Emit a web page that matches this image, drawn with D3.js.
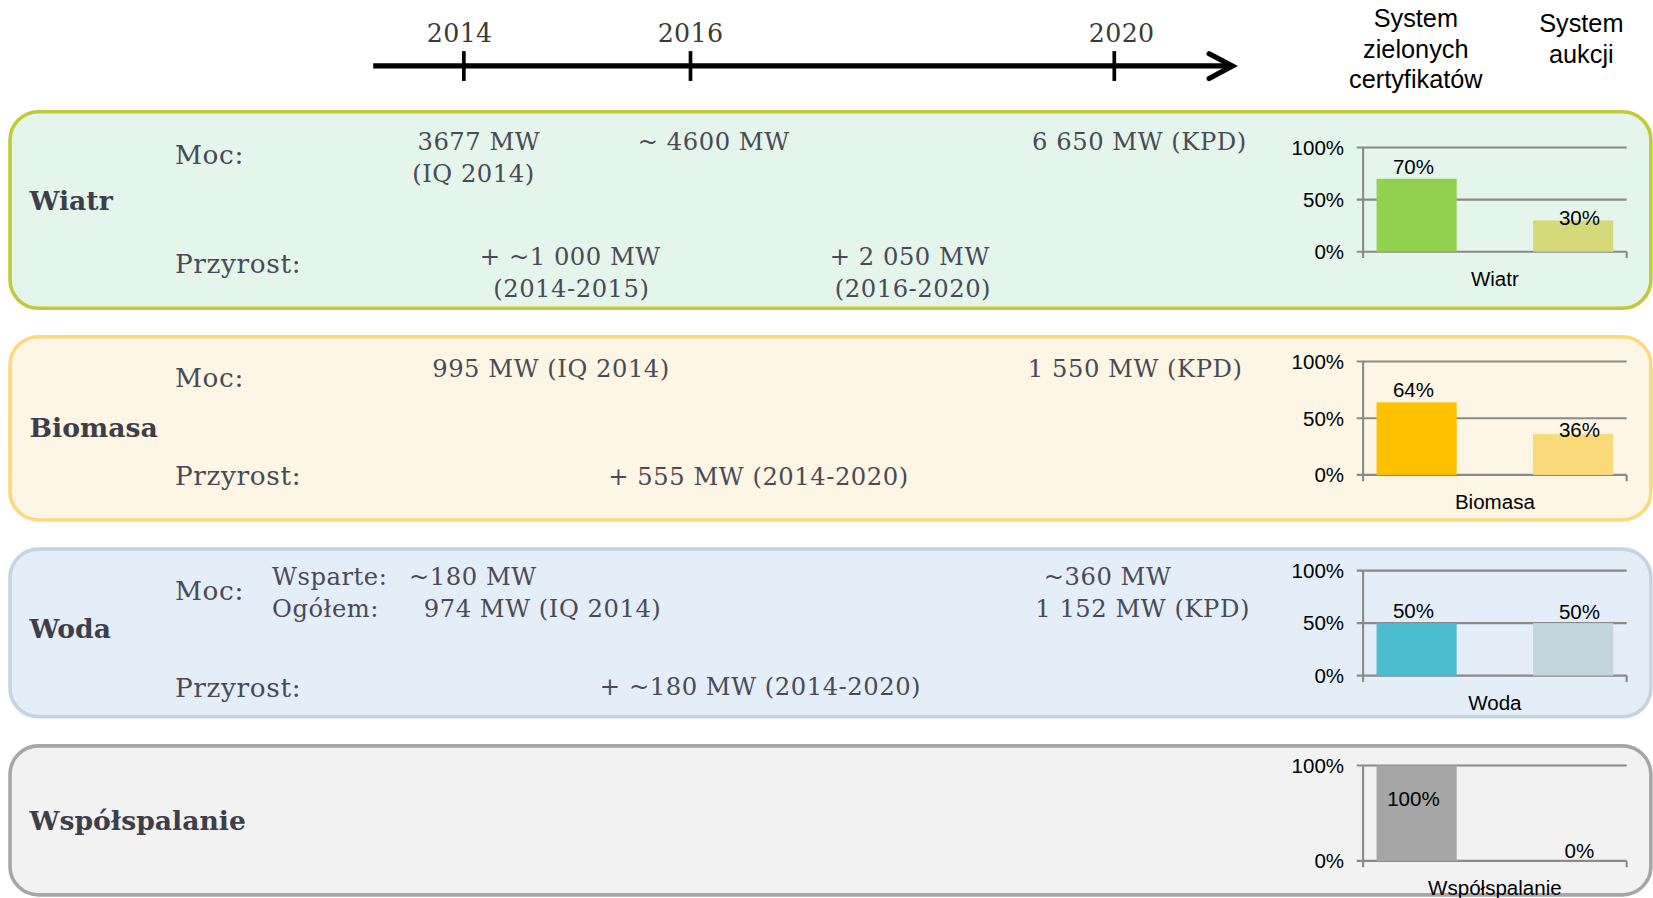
<!DOCTYPE html>
<html lang="pl">
<head>
    <meta charset="utf-8">
    <title>OZE - moc zainstalowana i systemy wsparcia</title>
    <script src="https://d3js.org/d3.v7.min.js"></script>
    <style>
        body {
            margin: 0;
            background: #ffffff;
        }

        .serif {
            font-family: "DejaVu Serif", serif;
            font-size: 23px;
            letter-spacing: 0.5px;
            fill: #4a4a56;
        }

        .serif.lbl {
            font-size: 25px;
            letter-spacing: 0.6px;
        }

        .panel-title {
            font-family: "DejaVu Serif", serif;
            font-weight: bold;
            font-size: 25.3px;
            fill: #3e3e4a;
        }

        .year {
            font-family: "DejaVu Serif", serif;
            font-size: 24px;
            letter-spacing: 0.3px;
            fill: #3a3a3a;
        }

        .head {
            font-family: "Liberation Sans", Arial, sans-serif;
            font-size: 24px;
            fill: #000;
        }

        .mini text {
            font-family: "Liberation Sans", Arial, sans-serif;
            font-size: 19.5px;
            fill: #000;
        }
    </style>
</head>
<body>
    <div id="chart"></div>

    <script type="text/javascript">
      // dane
      var years = [2014, 2016, 2020]
      var categories = ["Wiatr", "Biomasa", "Woda", "Współspalanie"]
      var systemHeads = [["System", "zielonych", "certyfikatów"], ["System", "aukcji"]]
      var greenCert = [70, 64, 50, 100]   // System zielonych certyfikatów, %
      var auction = [30, 36, 50, 0]       // System aukcji, %
      var percentTicks = [[0, 50, 100], [0, 50, 100], [0, 50, 100], [0, 100]]

      var rowLabels = ["Moc:", "Przyrost:"]
      var notesText = [
        ["Moc:", "3677 MW", "(IQ 2014)", "~ 4600 MW", "6 650 MW (KPD)",
         "Przyrost:", "+ ~1 000 MW", "(2014-2015)", "+ 2 050 MW", "(2016-2020)"],
        ["Moc:", "995 MW (IQ 2014)", "1 550 MW (KPD)",
         "Przyrost:", "+ 555 MW (2014-2020)"],
        ["Moc:", "Wsparte:", "~180 MW", "Ogółem:", "974 MW (IQ 2014)", "~360 MW", "1 152 MW (KPD)",
         "Przyrost:", "+ ~180 MW (2014-2020)"],
        []
      ]

      // uklad (wspolrzedne w ukladzie 1568x852)
      var panelBox = [
        {top: 106, bottom: 292.5, fill: "#e4f5eb", stroke: "#c3ca3a", yTop: 140, y0: 238.8, titleY: 199},
        {top: 319.5, bottom: 493.3, fill: "#fef6e4", stroke: "#fbd97c", yTop: 343, y0: 450.6, titleY: 414.3},
        {top: 521, bottom: 680, fill: "#e4eef8", stroke: "#c4d4e1", yTop: 541.4, y0: 641, titleY: 605.6},
        {top: 707.7, bottom: 849, fill: "#f2f2f2", stroke: "#a6a6a6", yTop: 726.3, y0: 816.8, titleY: 787.5}
      ]
      var barColors = [["#92d050", "#d4da7a"], ["#ffc000", "#fad97b"], ["#4bbdcf", "#c4d6dd"], ["#a6a6a6", "#d0d0d0"]]
      var lift2 = [3, 4, 11, 10]
      var yearDx = [-4, 0, 7]

      var notesPos = [
        [[166, 156, "start"], [396, 142.3, "start"], [391, 172.4, "start"], [605, 142.3, "start"], [979, 142.3, "start"],
         [166, 259, "start"], [541, 251.4, "middle"], [542, 281.5, "middle"], [863, 251.4, "middle"], [866, 281.5, "middle"]],
        [[166, 367, "start"], [410, 358, "start"], [975, 358, "start"],
         [166, 460.5, "start"], [577, 460, "start"]],
        [[166, 569, "start"], [258, 555, "start"], [388, 555, "start"], [258, 585, "start"], [402, 585, "start"],
         [990, 555, "start"], [982, 585, "start"],
         [166, 661.5, "start"], [569, 659, "start"]],
        []
      ]

      var svg = d3.select("#chart")
        .append("svg")
        .attr("width", 1653)
        .attr("height", 898)
        .attr("viewBox", "0 0 1568 852")
        .attr("preserveAspectRatio", "none")

      // os czasu
      var xYear = d3.scaleLinear().domain(years).range([440, 655, 1057])

      svg.append("line")
        .attr("x1", 354).attr("x2", 1166)
        .attr("y1", 62.6).attr("y2", 62.6)
        .attr("stroke", "#000").attr("stroke-width", 5)

      svg.append("path")
        .attr("d", "M1147,51 L1169,62.6 L1147,74.5")
        .attr("fill", "none")
        .attr("stroke", "#000").attr("stroke-width", 5)
        .attr("stroke-linecap", "round")

      svg.selectAll(".ytick")
        .data(years)
        .enter().append("line")
        .attr("class", "ytick")
        .attr("x1", d => xYear(d)).attr("x2", d => xYear(d))
        .attr("y1", 48.5).attr("y2", 76.8)
        .attr("stroke", "#000").attr("stroke-width", 3.5)

      svg.selectAll(".year")
        .data(years)
        .enter().append("text")
        .attr("class", "year")
        .attr("x", (d, i) => xYear(d) + yearDx[i])
        .attr("y", 39.5)
        .attr("text-anchor", "middle")
        .text(d => d)

      // naglowki systemow
      var headX = [1343, 1500], headY = [25.3, 30]
      systemHeads.forEach(function(lines, i){
        svg.append("text")
          .attr("class", "head")
          .attr("text-anchor", "middle")
          .selectAll("tspan")
          .data(lines)
          .enter().append("tspan")
          .attr("x", headX[i])
          .attr("y", (d, j) => headY[i] + j * (i == 0 ? 29.3 : 30))
          .text(d => d)
      })

      // panele
      var x = d3.scaleBand()
        .domain([0, 1])
        .range([1293, 1543])
        .paddingInner(0.488)
        .paddingOuter(0.086)

      categories.forEach(function(cat, i){
        var p = panelBox[i]
        var g = svg.append("g")

        g.append("rect")
          .attr("x", 9.5).attr("y", p.top)
          .attr("width", 1556.5).attr("height", p.bottom - p.top)
          .attr("rx", 27).attr("ry", 27)
          .attr("fill", p.fill)
          .attr("stroke", p.stroke)
          .attr("stroke-width", 3.4)

        g.append("text")
          .attr("class", "panel-title")
          .attr("x", 28).attr("y", p.titleY)
          .text(cat)

        g.selectAll(".serif")
          .data(notesText[i])
          .enter().append("text")
          .attr("class", d => rowLabels.indexOf(d) >= 0 ? "serif lbl" : "serif")
          .attr("x", (d, j) => notesPos[i][j][0])
          .attr("y", (d, j) => notesPos[i][j][1])
          .attr("text-anchor", (d, j) => notesPos[i][j][2])
          .text(d => d)

        // maly wykres
        var y = d3.scaleLinear().domain([0, 100]).range([p.y0, p.yTop])
        var c = g.append("g").attr("class", "mini")

        c.selectAll(".grid")
          .data(percentTicks[i])
          .enter().append("line")
          .attr("x1", 1287).attr("x2", 1543)
          .attr("y1", d => y(d)).attr("y2", d => y(d))
          .attr("stroke", "#8a8a8a").attr("stroke-width", 2)

        c.append("line")
          .attr("x1", 1293).attr("x2", 1293)
          .attr("y1", p.yTop).attr("y2", p.y0 + 6)
          .attr("stroke", "#8a8a8a").attr("stroke-width", 2)

        c.append("line")
          .attr("x1", 1543).attr("x2", 1543)
          .attr("y1", p.y0).attr("y2", p.y0 + 6)
          .attr("stroke", "#8a8a8a").attr("stroke-width", 2)

        c.selectAll(".tlabel")
          .data(percentTicks[i])
          .enter().append("text")
          .attr("x", 1275)
          .attr("y", d => y(d) + 7)
          .attr("text-anchor", "end")
          .text(d => d + "%")

        var vals = [greenCert[i], auction[i]]

        c.selectAll(".bar")
          .data(vals)
          .enter().append("rect")
          .attr("x", (d, j) => x(j))
          .attr("width", x.bandwidth())
          .attr("y", d => y(d))
          .attr("height", d => p.y0 - y(d))
          .attr("fill", (d, j) => barColors[i][j])

        c.selectAll(".vlabel")
          .data(vals)
          .enter().append("text")
          .attr("x", (d, j) => x(j) + x.bandwidth() / 2 + (j == 1 ? 6 : -3))
          .attr("y", function(d, j){
            var cy = y(d) - (j == 0 ? 12 : lift2[i])
            if (cy < p.yTop + 8) cy = y(d) + 31
            return cy + 7
          })
          .attr("text-anchor", "middle")
          .text(d => d + "%")

        c.append("text")
          .attr("x", 1418)
          .attr("y", p.y0 + 32.5)
          .attr("text-anchor", "middle")
          .text(cat)
      })
    </script>
</body>
</html>
